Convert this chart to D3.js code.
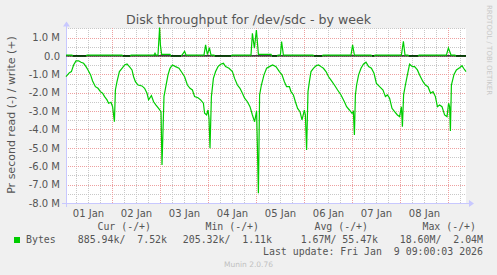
<!DOCTYPE html>
<html>
<head>
<meta charset="utf-8">
<script src="https://cdn.jsdelivr.net/npm/d3@7/dist/d3.min.js"></script>
<style>
  body { margin: 0; background: #f0f0f0; }
  svg { display: block; }
  svg text { font-family: "DejaVu Sans", sans-serif; fill: #555; }
  svg text.mono { font-family: "DejaVu Sans Mono", monospace; white-space: pre; }
</style>
</head>
<body>
<div id="chart"></div>
<script>
// Read series (negative side), [hours since 01 Jan 00:00, value in M]
const readPoints = [
  [1, -1.13], [2.7, -0.91], [3.7, -0.85], [4.8, -0.49], [6, -0.27], [7.3, -0.26],
  [8.5, -0.34], [9.8, -0.40], [11, -0.58], [12, -0.76], [13.3, -1.03], [14.3, -1.36],
  [15.7, -1.67], [17, -1.76], [18.2, -1.94], [19.3, -2.03], [20.3, -2.21], [21.5, -2.39],
  [22.3, -2.57], [23.5, -2.52], [24.3, -2.76], [25.2, -3.58], [25.7, -1.85], [26.5, -1.40],
  [27.7, -0.85], [29, -0.67], [30.3, -0.49], [31.5, -0.44], [32.7, -0.58], [34, -0.76],
  [34.8, -1.13], [35.7, -1.40], [37, -1.58], [39, -1.63], [40.3, -1.76], [41.5, -2.03],
  [42.3, -2.39], [43.7, -2.16], [44.8, -2.49], [46, -2.67], [47.3, -2.85], [48.5, -3.03],
  [49, -5.93], [50, -2.20], [50.9, -1.67], [52, -1.03], [53, -0.67], [54.2, -0.49],
  [55.8, -0.58], [57.5, -0.67], [59.2, -0.94], [60.3, -1.13], [61.7, -1.58], [63, -1.76],
  [64.2, -1.85], [65.3, -2.21], [67, -2.27], [68.3, -2.39], [69.7, -2.57], [70.3, -3.12],
  [71.3, -3.21], [72, -2.94], [72.5, -3.39], [73, -5.02], [73.7, -2.21], [74.7, -1.22],
  [75.8, -0.85], [77, -0.58], [78.3, -0.45], [79.7, -0.40], [80.8, -0.58], [82.5, -0.67],
  [84.2, -0.85], [85.3, -1.22], [86.7, -1.58], [88, -1.76], [89.2, -2.03], [90.3, -2.30],
  [91.7, -2.49], [93, -2.76], [94.2, -3.21], [95.3, -3.58], [96.3, -2.99], [97.2, -7.47],
  [97.8, -2.12], [98.7, -1.58], [100, -1.03], [101.3, -0.67], [102.7, -0.58], [104.3, -0.49],
  [106, -0.58], [107.7, -0.85], [109, -1.03], [110.2, -1.40], [111.3, -1.67], [112.7, -1.67],
  [113.5, -1.94], [114.7, -2.12], [115.7, -2.49], [116.8, -2.85], [118, -3.03], [119, -3.48],
  [120.2, -2.94], [120.7, -3.21], [121.3, -5.12], [122, -1.94], [122.7, -1.40], [123.5, -0.85],
  [124.7, -0.67], [126, -0.53], [127.3, -0.49], [128.5, -0.58], [129.7, -0.67], [131, -0.85],
  [132.3, -1.13], [133.5, -1.31], [135.2, -1.58], [136.8, -1.85], [138.5, -2.12], [140.2, -2.49],
  [141.3, -2.76], [142.7, -2.94], [144, -3.12], [144.7, -3.03], [145.2, -4.30], [145.7, -2.12],
  [146.3, -1.58], [147.3, -1.03], [148.5, -0.67], [149.7, -0.45], [151, -0.34], [152.3, -0.58],
  [153.7, -0.67], [155, -0.94], [156.2, -1.49], [157.8, -1.67], [159.5, -1.85], [160.7, -2.21],
  [161.7, -2.12], [162.8, -2.30], [164, -2.85], [165.3, -3.03], [166.7, -3.21], [167.8, -3.30],
  [168.7, -2.76], [169.2, -3.85], [169.8, -2.12], [170.7, -1.58], [171.7, -1.03], [172.8, -0.45],
  [174.2, -0.58], [175.3, -0.58], [176.7, -0.76], [177.8, -1.03], [179.5, -1.40], [180.7, -1.58],
  [182, -1.67], [183.3, -2.03], [184.5, -1.94], [185.7, -2.21], [186.7, -2.76], [187.8, -2.67],
  [189, -2.76], [190.3, -3.21], [191.5, -3.30], [192.3, -2.57], [192.8, -2.76], [193.2, -4.08],
  [193.7, -1.58], [195, -1.00], [196.2, -0.76], [197.8, -0.64], [199, -0.53], [199.8, -0.67],
  [201, -0.85]
];

// Write series (positive side), [hours since 01 Jan 00:00, value in M]
const writePoints = [
  [1, 0.05], [4, 0.05], [4.5, 0], [11, 0], [11.5, 0.05], [29, 0.05], [29.5, 0], [33, 0],
  [33.5, 0.05], [45, 0.05], [45.5, 0.15], [46, 0.05], [47, 0.05], [47.8, 1.55], [48.2, 0.6],
  [48.8, 0.09], [53, 0.09], [53.5, 0], [58.5, 0], [59, 0.05], [60.3, 0.25], [61, 0.05],
  [70, 0.05], [70.8, 0.6], [71.7, 0.07], [72.7, 0.45], [73.5, 0.05], [75, 0.05], [75.5, 0],
  [83.5, 0], [84, 0.05], [93.5, 0.05], [94.2, 1.23], [95.2, 0.42], [96.2, 1.41], [97.2, 0.09],
  [103.5, 0.09], [104, 0], [106.5, 0], [107, 0.05], [108.2, 0.05], [108.8, 0.78], [109.7, 0.05],
  [124.5, 0.05], [125, 0], [129, 0], [129.5, 0.05], [143.5, 0.05], [144.3, 0.6], [145.2, 0.05],
  [153.5, 0.05], [154, 0], [155, 0], [155.5, 0.05], [168.7, 0.05], [169.7, 0.8], [170.5, 0.05],
  [172, 0.05], [172.5, 0], [177, 0], [177.5, 0.05], [191.2, 0.05], [192.2, 0.44], [193.5, 0.05],
  [195.5, 0.05], [196, 0], [201, 0]
];

const yTickValues = [1, 0, -1, -2, -3, -4, -5, -6, -7, -8];
const legendHeaders = ["Cur (-/+)", "Min (-/+)", "Avg (-/+)", "Max (-/+)"];
const legendValues = ["885.94k/  7.52k", "205.32k/  1.11k", "1.67M/ 55.47k", "18.60M/  2.04M"];
const seriesName = "Bytes";
const lastUpdate = "Last update: Fri Jan  9 09:00:03 2026";

const drawChart = () => {

  /*******************************/
  /*    Declare the constants    */
  /*******************************/
  const width = 497;
  const height = 275;
  const plot = {left: 66, right: 466, top: 28.4, bottom: 203};
  const green = "#00cc00";
  const t0 = Date.UTC(2026, 0, 1);
  const toDate = h => new Date(t0 + h * 3600e3);


  /*******************************/
  /*    Append the containers    */
  /*******************************/
  const svg = d3.select("#chart")
    .append("svg")
      .attr("width", width)
      .attr("height", height);

  svg.append("rect")
    .attr("width", width)
    .attr("height", height)
    .attr("fill", "#f0f0f0");

  svg.append("rect")
    .attr("x", plot.left)
    .attr("y", plot.top)
    .attr("width", plot.right - plot.left)
    .attr("height", plot.bottom - plot.top)
    .attr("fill", "#ffffff");


  /****************************/
  /*    Declare the scales    */
  /****************************/
  const xScale = d3.scaleUtc()
    .domain([toDate(1), toDate(201)])
    .range([plot.left, plot.right]);

  const yScale = d3.scaleLinear()
    .domain([-8, 1.5])
    .range([plot.bottom, plot.top]);


  /**************************/
  /*      Grid lines        */
  /**************************/
  const [d0, d1] = xScale.domain();
  const minorX = d3.utcHour.every(6).range(d0, d1).filter(d => d.getUTCHours() !== 0);
  const majorX = d3.utcDay.range(d0, d1);

  const gridX = (ticks, color) => svg.append("g")
    .attr("transform", `translate(0, ${plot.bottom})`)
    .call(d3.axisBottom(xScale).tickValues(ticks).tickSize(-(plot.bottom - plot.top)).tickFormat(""))
    .call(g => g.select(".domain").remove())
    .call(g => g.selectAll("line")
      .attr("stroke", color)
      .attr("stroke-dasharray", "1,1")
      .attr("shape-rendering", "crispEdges"));

  const gridY = (ticks, color) => svg.append("g")
    .attr("transform", `translate(${plot.left}, 0)`)
    .call(d3.axisLeft(yScale).tickValues(ticks).tickSize(-(plot.right - plot.left)).tickFormat(""))
    .call(g => g.select(".domain").remove())
    .call(g => g.selectAll("line")
      .attr("stroke", color)
      .attr("stroke-dasharray", "1,1")
      .attr("shape-rendering", "crispEdges"));

  gridX(minorX, "#c8c8c8");
  gridY(yTickValues.map(v => v + 0.5).filter(v => v <= 1.5), "#c8c8c8");
  gridX(majorX, "#eda0a0");
  gridY(yTickValues, "#eda0a0");


  /**************************/
  /*      Add the axes      */
  /**************************/
  const leftAxis = d3.axisLeft(yScale)
    .tickValues(yTickValues)
    .tickSize(0)
    .tickPadding(6)
    .tickFormat(d => d === 0 ? "0.0" : `${d.toFixed(1)} M`);
  svg.append("g")
    .attr("transform", `translate(${plot.left}, 0)`)
    .call(leftAxis)
    .call(g => g.select(".domain").remove())
    .call(g => g.selectAll("text")
      .attr("font-size", 10)
      .attr("font-family", "DejaVu Sans")
      .attr("fill", "#555"));

  // day labels sit at noon of each day
  const dayLabels = d3.utcDay.range(d3.utcDay.floor(d0), d1)
    .map(d => d3.utcHour.offset(d, 12))
    .filter(d => d >= d0 && d <= d1);
  const bottomAxis = d3.axisBottom(xScale)
    .tickValues(dayLabels)
    .tickSize(0)
    .tickPadding(7)
    .tickFormat(d3.utcFormat("%d %b"));
  svg.append("g")
    .attr("transform", `translate(0, ${plot.bottom})`)
    .call(bottomAxis)
    .call(g => g.select(".domain").remove())
    .call(g => g.selectAll("text")
      .attr("font-size", 10)
      .attr("font-family", "DejaVu Sans")
      .attr("fill", "#555"));

  // axis lines with arrows
  const axisColor = "#c8c8ff";
  svg.append("line")
    .attr("x1", plot.left - 4).attr("x2", plot.right + 5)
    .attr("y1", plot.bottom + 0.5).attr("y2", plot.bottom + 0.5)
    .attr("stroke", axisColor);
  svg.append("path")
    .attr("d", `M${plot.right + 3},${plot.bottom - 3} L${plot.right + 8},${plot.bottom + 0.5} L${plot.right + 3},${plot.bottom + 4} Z`)
    .attr("fill", axisColor);
  svg.append("line")
    .attr("x1", plot.left + 0.5).attr("x2", plot.left + 0.5)
    .attr("y1", plot.bottom + 4).attr("y2", plot.top - 5)
    .attr("stroke", axisColor);
  svg.append("path")
    .attr("d", `M${plot.left - 3},${plot.top - 2} L${plot.left + 0.5},${plot.top - 7} L${plot.left + 4},${plot.top - 2} Z`)
    .attr("fill", axisColor);


  /******************************/
  /*        Add the lines        */
  /******************************/
  const line = d3.line()
    .x(d => xScale(toDate(d[0])))
    .y(d => yScale(d[1]));

  svg.append("path")
    .datum(readPoints)
    .attr("d", line)
    .attr("fill", "none")
    .attr("stroke", green)
    .attr("stroke-width", 1.2);

  svg.append("line")
    .attr("x1", plot.left).attr("x2", plot.right)
    .attr("y1", yScale(0)).attr("y2", yScale(0))
    .attr("stroke", "#000")
    .attr("stroke-width", 1.2);

  svg.append("path")
    .datum(writePoints)
    .attr("d", line)
    .attr("fill", "none")
    .attr("stroke", green)
    .attr("stroke-width", 1.2);

  // the zero line stays on top where the write series is exactly zero
  svg.append("g")
    .selectAll("line")
    .data(d3.pairs(writePoints).filter(([a, b]) => a[1] === 0 && b[1] === 0))
    .join("line")
      .attr("x1", d => xScale(toDate(d[0][0])))
      .attr("x2", d => xScale(toDate(d[1][0])))
      .attr("y1", yScale(0))
      .attr("y2", yScale(0))
      .attr("stroke", "#000")
      .attr("stroke-width", 1.2);


  /**************************/
  /*     Titles & legend     */
  /**************************/
  svg.append("text")
    .text("Disk throughput for /dev/sdc - by week")
    .attr("x", width / 2)
    .attr("y", 24)
    .attr("text-anchor", "middle")
    .attr("font-size", 12.6)
    .attr("fill", "#444");

  svg.append("text")
    .text("Pr second read (-) / write (+)")
    .attr("transform", `translate(15, 115) rotate(-90)`)
    .attr("text-anchor", "middle")
    .attr("font-size", 11);

  svg.append("text")
    .text("RRDTOOL / TOBI OETIKER")
    .attr("transform", `translate(487, 5) rotate(90)`)
    .attr("font-size", 7)
    .style("fill", "#c8c8c8");

  const headerRight = [151, 259, 368, 476];
  const valueRight = [167, 272, 378, 483];

  svg.selectAll(".legend-header")
    .data(legendHeaders)
    .join("text")
      .attr("class", "legend-header mono")
      .text(d => d)
      .attr("x", (d, i) => headerRight[i])
      .attr("y", 229.5)
      .attr("text-anchor", "end")
      .attr("font-size", 9.9);

  svg.selectAll(".legend-value")
    .data(legendValues)
    .join("text")
      .attr("class", "legend-value mono")
      .text(d => d)
      .attr("x", (d, i) => valueRight[i])
      .attr("y", 243)
      .attr("text-anchor", "end")
      .attr("font-size", 9.9);

  svg.append("rect")
    .attr("x", 14).attr("y", 237)
    .attr("width", 6).attr("height", 6)
    .attr("fill", green);

  svg.append("text")
    .attr("class", "mono")
    .text(seriesName)
    .attr("x", 26)
    .attr("y", 243)
    .attr("font-size", 9.9);

  svg.append("text")
    .attr("class", "mono")
    .text(lastUpdate)
    .attr("x", 483)
    .attr("y", 255)
    .attr("text-anchor", "end")
    .attr("font-size", 9.9);

  svg.append("text")
    .text("Munin 2.0.76")
    .attr("x", width / 2)
    .attr("y", 266.5)
    .attr("text-anchor", "middle")
    .attr("font-size", 7.5)
    .style("fill", "#c0c0c0");
};

drawChart();
</script>
</body>
</html>
